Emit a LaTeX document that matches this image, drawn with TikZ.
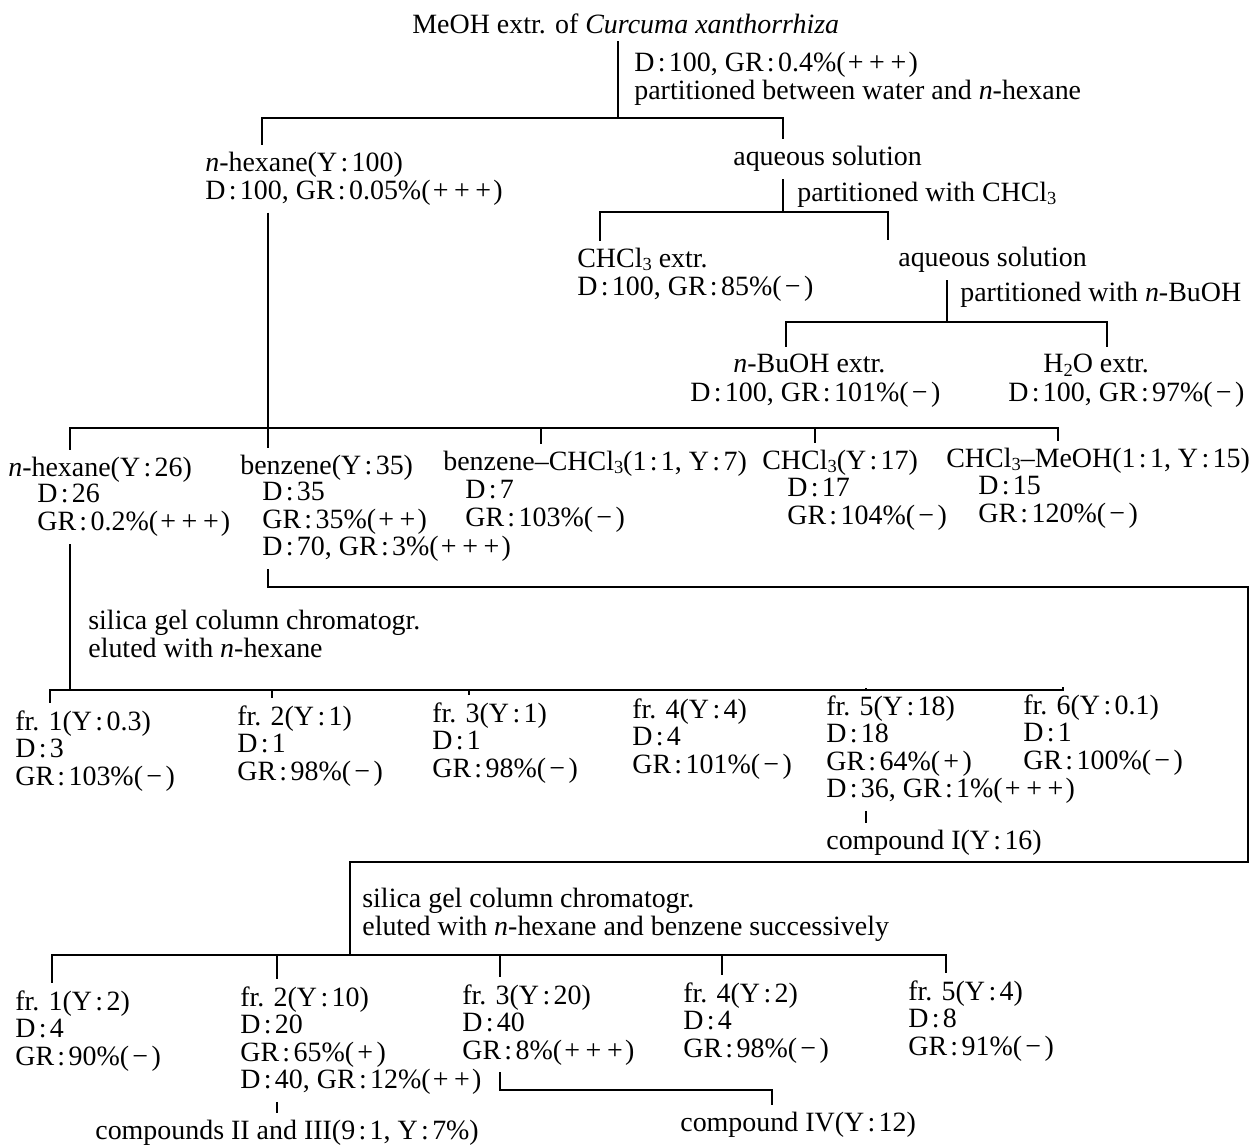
\documentclass[tikz,border=0pt]{standalone}
\usepackage{fontspec}
\setmainfont{Liberation Serif}
\usetikzlibrary{positioning}
\newcommand{\cn}{\kern.12em:\kern.12em}
\newcommand{\ppp}{(\kern.08em+\kern.2em+\kern.2em+\kern.08em)}
\newcommand{\ppl}{(\kern.08em+\kern.2em+\kern.08em)}
\newcommand{\pl}{(\kern.12em+\kern.12em)}
\newcommand{\mn}{(\kern.12em−\kern.12em)}
\newcommand{\sbs}[1]{\raisebox{-.25ex}{\fontsize{10.5}{10.5}\selectfont #1}}
\tikzset{
    txtblk/.style={inner sep=0pt, anchor=north west, align=left, font=\fontsize{15.9}{15.65}\selectfont},
    brk/.style={line width=.8pt},
    tonode/.style={brk, shorten >=4pt},
    fromnode/.style={brk, shorten <=4pt},
    bothnodes/.style={tonode, fromnode}
}
\begin{document}
\begin{tikzpicture}[x=0.02cm,y=-0.02cm]
        \useasboundingbox (0,0) rectangle (1251,1144);
        % MeOH extract, first partition
        \node[txtblk] (meoh) at (412,13) {MeOH extr. of \textit{Curcuma xanthorrhiza}};
        \node[txtblk] (part1) at (634,52) {D\cn100, GR\cn0.4\%\ppp\\partitioned between water and \textit{n}-hexane};
        \coordinate (s0) at (618,118);
        \coordinate (d0l) at (262,118);
        \coordinate (d0r) at (783,118);
        \draw[tonode] (s0) -- (meoh.south -| s0);
        \node[txtblk] (hexa) at (205,152) {\textit{n}-hexane(Y\cn100)\\D\cn100, GR\cn0.05\%\ppp};
        \node[txtblk] (aqa) at (733,146) {aqueous solution};
        \draw[bothnodes] (d0l |- hexa.north) -- (d0l) -- (d0r) -- (d0r |- aqa.north);

        % CHCl3 partition
        \node[txtblk] (part2) at (797,182) {partitioned with CHCl\sbs{3}};
        \coordinate (s1) at (783,212);
        \coordinate (d1l) at (600,212);
        \coordinate (d1r) at (888,212);
        \draw[tonode] (s1) -- (aqa.south -| s1);
        \node[txtblk] (chcla) at (577,248) {CHCl\sbs{3} extr.\\D\cn100, GR\cn85\%\mn};
        \node[txtblk] (aqb) at (898,247) {aqueous solution};
        \draw[bothnodes] (d1l |- chcla.north) -- (d1l) -- (d1r) -- (d1r |- aqb.north);

        % n-BuOH partition
        \node[txtblk] (part3) at (960,282) {partitioned with \textit{n}-BuOH};
        \coordinate (s2) at (947,322);
        \coordinate (d2l) at (786,322);
        \coordinate (d2r) at (1107,322);
        \draw[tonode] (s2) -- (aqb.south -| s2);
        \node[txtblk] (buoh) at (733,354) {\textit{n}-BuOH extr.};
        \node[txtblk] (buohdat) at (690,382) {D\cn100, GR\cn101\%\mn};
        \node[txtblk] (h2o) at (1043,354) {H\sbs{2}O extr.};
        \node[txtblk] (h2odat) at (1008,382) {D\cn100, GR\cn97\%\mn};
        \draw[bothnodes] (d2l |- buoh.north) -- (d2l) -- (d2r) -- (d2r |- h2o.north);

        % column of the n-hexane layer
        \node[txtblk] (hexb) at (8,457) {\textit{n}-hexane(Y\cn26)};
        \node[txtblk] (hexbdat) at (37,484) {D\cn26\\GR\cn0.2\%\ppp};
        \node[txtblk] (bzb) at (240,455) {benzene(Y\cn35)};
        \node[txtblk] (bzbdat) at (262,482) {D\cn35\\GR\cn35\%\ppl\\D\cn70, GR\cn3\%\ppp};
        \node[txtblk] (bcb) at (443,451) {benzene–CHCl\sbs{3}(1\cn1, Y\cn7)};
        \node[txtblk] (bcbdat) at (465,480) {D\cn7\\GR\cn103\%\mn};
        \node[txtblk] (chb) at (762,450) {CHCl\sbs{3}(Y\cn17)};
        \node[txtblk] (chbdat) at (787,478) {D\cn17\\GR\cn104\%\mn};
        \node[txtblk] (cmb) at (946,448) {CHCl\sbs{3}–MeOH(1\cn1, Y\cn15)};
        \node[txtblk] (cmbdat) at (978,476) {D\cn15\\GR\cn120\%\mn};
        \coordinate (d3a) at (70,428);
        \coordinate (d3b) at (268,428);
        \coordinate (d3c) at (541,428);
        \coordinate (d3d) at (815,428);
        \coordinate (d3e) at (1058,428);
        \draw[bothnodes] (hexa.south -| d3b) -- (d3b |- bzb.north);
        \draw[bothnodes] (d3a |- hexb.north) -- (d3a) -- (d3e) -- (d3e |- cmb.north);
        \draw[tonode] (d3c) -- (d3c |- bcb.north);
        \draw[tonode] (d3d) -- (d3d |- chb.north);

        % n-hexane fraction: first silica gel column
        \node[txtblk] (sil1) at (88,610) {silica gel column chromatogr.\\eluted with \textit{n}-hexane};
        \coordinate (s4) at (70,690);
        \draw[tonode] (s4) -- (hexbdat.south -| s4);
        \node[txtblk] (fra1) at (15,710) {fr. 1(Y\cn0.3)\\D\cn3\\GR\cn103\%\mn};
        \node[txtblk] (fra2) at (237,705) {fr. 2(Y\cn1)\\D\cn1\\GR\cn98\%\mn};
        \node[txtblk] (fra3) at (432,702) {fr. 3(Y\cn1)\\D\cn1\\GR\cn98\%\mn};
        \node[txtblk] (fra4) at (632,698) {fr. 4(Y\cn4)\\D\cn4\\GR\cn101\%\mn};
        \node[txtblk] (fra5) at (826,695) {fr. 5(Y\cn18)\\D\cn18\\GR\cn64\%\pl\\D\cn36, GR\cn1\%\ppp};
        \node[txtblk] (fra6) at (1023,694) {fr. 6(Y\cn0.1)\\D\cn1\\GR\cn100\%\mn};
        \node[txtblk] (cmp1) at (826,830) {compound I(Y\cn16)};
        \coordinate (ja1) at (50,690);
        \coordinate (ja2) at (272,690);
        \coordinate (ja3) at (469,690);
        \coordinate (ja4) at (668,690);
        \coordinate (ja5) at (866,690);
        \coordinate (ja6) at (1063,690);
        \draw[bothnodes] (ja1 |- fra1.north) -- (ja1) -- (ja6) -- (ja6 |- fra6.north);
        \foreach \i in {2,...,5}
            \draw[tonode] (ja\i) -- (ja\i |- fra\i.north);
        \draw[bothnodes] (fra5.south -| ja5) -- (ja5 |- cmp1.north);

        % benzene fraction: second silica gel column
        \coordinate (r1) at (268,587);
        \coordinate (r2) at (1248,587);
        \coordinate (r3) at (1248,862);
        \coordinate (r4) at (350,862);
        \coordinate (s5) at (350,955);
        \draw[fromnode] (bzbdat.south -| r1) -- (r1) -- (r2) -- (r3) -- (r4) -- (s5);
        \node[txtblk] (sil2) at (362,888) {silica gel column chromatogr.\\eluted with \textit{n}-hexane and benzene successively};
        \node[txtblk] (frb1) at (15,990) {fr. 1(Y\cn2)\\D\cn4\\GR\cn90\%\mn};
        \node[txtblk] (frb2) at (240,986) {fr. 2(Y\cn10)\\D\cn20\\GR\cn65\%\pl\\D\cn40, GR\cn12\%\ppl};
        \node[txtblk] (frb3) at (462,984) {fr. 3(Y\cn20)\\D\cn40\\GR\cn8\%\ppp};
        \node[txtblk] (frb4) at (683,982) {fr. 4(Y\cn2)\\D\cn4\\GR\cn98\%\mn};
        \node[txtblk] (frb5) at (908,980) {fr. 5(Y\cn4)\\D\cn8\\GR\cn91\%\mn};
        \node[txtblk] (cmp2) at (95,1120) {compounds II and III(9\cn1, Y\cn7\%)};
        \node[txtblk] (cmp4) at (680,1112) {compound IV(Y\cn12)};
        \coordinate (jb1) at (52,955);
        \coordinate (jb2) at (277,955);
        \coordinate (jb3) at (500,955);
        \coordinate (jb4) at (722,955);
        \coordinate (jb5) at (946,955);
        \coordinate (k1) at (500,1090);
        \coordinate (k2) at (772,1090);
        \draw[bothnodes] (jb1 |- frb1.north) -- (jb1) -- (jb5) -- (jb5 |- frb5.north);
        \foreach \i in {2,...,4}
            \draw[tonode] (jb\i) -- (jb\i |- frb\i.north);
        \draw[bothnodes] (frb2.south -| jb2) -- (jb2 |- cmp2.north);
        \draw[bothnodes] (frb3.south -| k1) -- (k1) -- (k2) -- (k2 |- cmp4.north);
    \end{tikzpicture}
\end{document}
